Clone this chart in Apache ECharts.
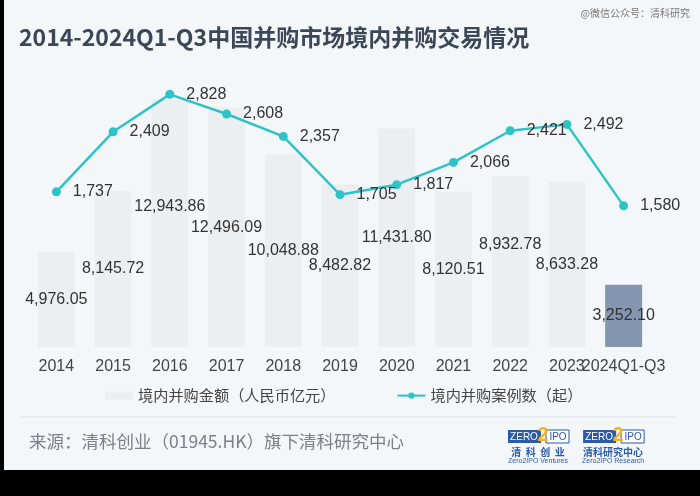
<!DOCTYPE html>
<html>
<head>
<meta charset="utf-8">
<script src="https://cdn.jsdelivr.net/npm/echarts@6/dist/echarts.min.js"></script>
<style>
  html, body { margin: 0; padding: 0; background: #000; }
  #main { width: 700px; height: 496px; }
</style>
</head>
<body>
<div id="main"></div>
<script>
// 数据
const years = ['2014', '2015', '2016', '2017', '2018', '2019', '2020', '2021', '2022', '2023', '2024Q1-Q3'];
const amounts = [4976.05, 8145.72, 12943.86, 12496.09, 10048.88, 8482.82, 11431.80, 8120.51, 8932.78, 8633.28, 3252.10];
const cases = [1737, 2409, 2828, 2608, 2357, 1705, 1817, 2066, 2421, 2492, 1580];

const fmt2 = v => v.toLocaleString('en-US', {minimumFractionDigits: 2, maximumFractionDigits: 2});
const fmt0 = v => v.toLocaleString('en-US');

const chart = echarts.init(document.getElementById('main'));
const font = '"Noto Sans CJK SC", "Noto Sans", sans-serif';
const numFont = '"Liberation Sans", Arial, sans-serif';
// 原图里有两个柱标签被往上挪了
const liftedLabels = [2, 8];

// logo 画法
function logo(x, cn, en) {
  return {
    type: 'group', left: x, top: 425,
    children: [
      {type: 'rect', shape: {x: 0, y: 6, width: 33, height: 13}, style: {fill: '#2b5aa8'}},
      {type: 'text', style: {x: 16, y: 13, text: 'ZERO', fill: '#fff', font: '10px Arial', align: 'center', verticalAlign: 'middle'}},
      {type: 'rect', shape: {x: 38, y: 6, width: 23, height: 13}, style: {fill: '#fff', stroke: '#2b5aa8', lineWidth: 1}},
      {type: 'text', style: {x: 50, y: 13, text: 'IPO', fill: '#2b5aa8', font: '10px Arial', align: 'center', verticalAlign: 'middle'}},
      {type: 'text', style: {x: 35, y: 11, text: '2', fill: '#f0b323', font: 'bold 20px Arial', align: 'center', verticalAlign: 'middle'}},
      {type: 'text', style: {x: 30, y: 28, text: cn, fill: '#2b5aa8', font: 'bold 10px "Noto Sans CJK SC"', align: 'center', verticalAlign: 'middle'}},
      {type: 'text', style: {x: 30, y: 37, text: en, fill: '#2b5aa8', font: '7px Arial', align: 'center', verticalAlign: 'middle'}}
    ]
  };
}

const barData = amounts.map((v, i) => {
  const item = {value: v};
  if (i === amounts.length - 1) item.itemStyle = {color: '#8597b0'};
  if (liftedLabels.includes(i)) item.label = {offset: [0, -17]};
  return item;
});

const option = {
  backgroundColor: '#f4f7fa',
  textStyle: {fontFamily: font},
  title: {
    text: '2014-2024Q1-Q3中国并购市场境内并购交易情况',
    left: 14, top: 21,
    textStyle: {fontSize: 23, fontWeight: 'bold', color: '#3b4656', fontFamily: font}
  },
  legend: {
    top: 383, left: 100,
    itemGap: 61, itemWidth: 28, itemHeight: 8,
    textStyle: {fontSize: 15.2, color: '#444'},
    data: [
      {name: '境内并购金额（人民币亿元）', icon: 'rect'},
      {name: '境内并购案例数（起）'}
    ]
  },
  grid: {left: 28, right: 48, top: 79, bottom: 149},
  xAxis: {
    type: 'category', data: years,
    axisLine: {show: false}, axisTick: {show: false},
    axisLabel: {fontSize: 16, color: '#444', margin: 12, interval: 0, fontFamily: numFont}
  },
  yAxis: [
    {type: 'value', min: 0, max: 14000, show: false},
    {type: 'value', min: 0, max: 3000, show: false}
  ],
  series: [
    {
      name: '境内并购金额（人民币亿元）', type: 'bar', barWidth: 37,
      itemStyle: {color: '#eceff2'},
      data: barData,
      label: {show: true, position: 'inside', fontSize: 16, color: '#333', fontFamily: numFont, formatter: p => fmt2(p.value)}
    },
    {
      name: '境内并购案例数（起）', type: 'line', yAxisIndex: 1,
      data: cases, symbol: 'circle', symbolSize: 9,
      lineStyle: {color: '#2ec4c7', width: 2.5},
      itemStyle: {color: '#2ec4c7'},
      label: {show: true, position: 'right', distance: 12, fontSize: 16, color: '#333', fontFamily: numFont, formatter: p => fmt0(p.value)}
    }
  ],
  graphic: [
    {type: 'text', right: 10, top: 8, style: {text: '@微信公众号：清科研究', fill: '#777', font: '10px "Noto Sans CJK SC"'}},
    {type: 'line', shape: {x1: 20, y1: 417, x2: 676, y2: 417}, style: {stroke: '#dfe3e8', lineWidth: 1}},
    {type: 'text', left: 29, top: 433, style: {text: '来源：清科创业（01945.HK）旗下清科研究中心', fill: '#7c8088', font: '17.5px "Noto Sans CJK SC"'}},
    logo(508, '清  科  创  业', 'Zero2IPO Ventures'),
    logo(582, '清科研究中心', 'Zero2IPO Research'),
    {type: 'rect', shape: {x: 0, y: 0, width: 4, height: 496}, style: {fill: '#000'}},
    {type: 'rect', shape: {x: 0, y: 470, width: 700, height: 26}, style: {fill: '#000'}}
  ]
};

chart.setOption(option);
</script>
</body>
</html>
